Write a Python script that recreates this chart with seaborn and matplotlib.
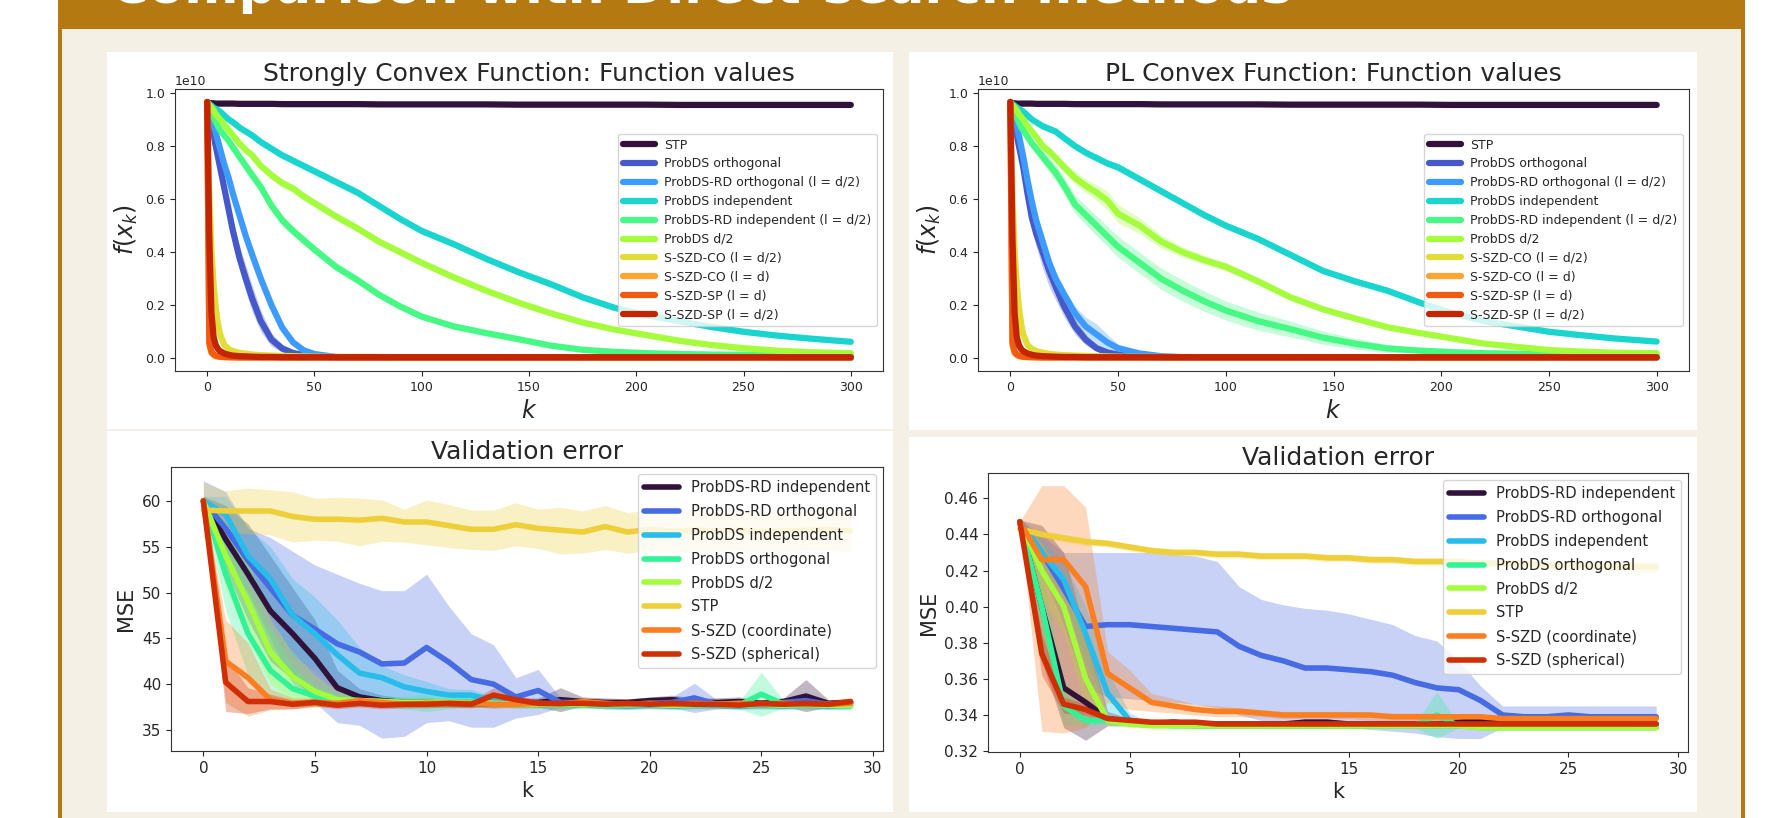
import numpy as np
import matplotlib
matplotlib.use("Agg")
import matplotlib.pyplot as plt
from matplotlib.patches import Rectangle
import seaborn as sns

# ---------------------------------------------
#  Poster block: comparison with direct-search methods
# ---------------------------------------------

HEADER = "Comparison with Direct-search methods"

# ---- top row: function values (units of 1e10) ----
K_TOP = [0, 1, 2, 3, 4, 5, 6, 8, 10, 12, 15, 18, 21, 25, 30, 35, 40, 45, 50, 60,
         70, 80, 90, 100, 115, 130, 145, 160, 175, 190, 205, 220, 235, 250, 265, 280, 300]

TOP_LABELS = ["STP", "ProbDS orthogonal", "ProbDS-RD orthogonal (l = d/2)",
              "ProbDS independent", "ProbDS-RD independent (l = d/2)", "ProbDS d/2",
              "S-SZD-CO (l = d/2)", "S-SZD-CO (l = d)", "S-SZD-SP (l = d)", "S-SZD-SP (l = d/2)"]

# Strongly convex function
SC_STP = [0.966, 0.962, 0.961, 0.961, 0.960, 0.960, 0.960, 0.960, 0.960, 0.960, 0.959, 0.959, 0.959,
          0.959, 0.959, 0.958, 0.958, 0.958, 0.958, 0.958, 0.958, 0.957, 0.957, 0.957, 0.957, 0.957,
          0.956, 0.956, 0.956, 0.956, 0.956, 0.955, 0.955, 0.955, 0.955, 0.955, 0.955]
SC_ORTH = [0.966, 0.93, 0.89, 0.84, 0.80, 0.76, 0.72, 0.64, 0.56, 0.48, 0.38, 0.30, 0.225, 0.14, 0.07,
           0.037, 0.02, 0.012, 0.007, 0.003, 0.002, 0.002, 0.002, 0.002, 0.002, 0.002, 0.002, 0.002,
           0.002, 0.002, 0.002, 0.002, 0.002, 0.002, 0.002, 0.002, 0.002]
SC_RDORTH = [0.966, 0.95, 0.92, 0.88, 0.85, 0.82, 0.79, 0.73, 0.68, 0.62, 0.54, 0.46, 0.39, 0.30, 0.20,
             0.115, 0.06, 0.03, 0.016, 0.005, 0.003, 0.002, 0.002, 0.002, 0.002, 0.002, 0.002, 0.002,
             0.002, 0.002, 0.002, 0.002, 0.002, 0.002, 0.002, 0.002, 0.002]
SC_IND = [0.966, 0.958, 0.952, 0.945, 0.940, 0.935, 0.930, 0.915, 0.900, 0.890, 0.870, 0.855, 0.840,
          0.815, 0.790, 0.765, 0.745, 0.725, 0.705, 0.665, 0.625, 0.575, 0.525, 0.480, 0.430, 0.375,
          0.325, 0.280, 0.230, 0.190, 0.162, 0.140, 0.118, 0.100, 0.086, 0.075, 0.062]
SC_RDIND = [0.966, 0.95, 0.93, 0.91, 0.89, 0.875, 0.86, 0.84, 0.82, 0.795, 0.76, 0.725, 0.69, 0.645,
            0.575, 0.52, 0.48, 0.445, 0.41, 0.345, 0.295, 0.24, 0.195, 0.157, 0.12, 0.095, 0.072,
            0.048, 0.032, 0.024, 0.019, 0.016, 0.014, 0.013, 0.012, 0.011, 0.010]
SC_D2 = [0.966, 0.955, 0.945, 0.935, 0.92, 0.91, 0.90, 0.88, 0.86, 0.84, 0.81, 0.785, 0.765, 0.725,
         0.69, 0.66, 0.64, 0.61, 0.585, 0.535, 0.49, 0.44, 0.40, 0.36, 0.305, 0.255, 0.21, 0.17,
         0.135, 0.108, 0.087, 0.066, 0.050, 0.038, 0.029, 0.023, 0.019]
SC_CO2 = [0.966, 0.60, 0.40, 0.28, 0.19, 0.13, 0.09, 0.05, 0.035, 0.027, 0.021, 0.017, 0.014, 0.012,
          0.010, 0.009, 0.008, 0.007, 0.006, 0.005, 0.005, 0.005, 0.004, 0.004, 0.004, 0.004, 0.004,
          0.004, 0.004, 0.004, 0.004, 0.004, 0.004, 0.004, 0.004, 0.004, 0.004]
SC_CO = [0.966, 0.05, 0.02, 0.012, 0.008, 0.006, 0.005, 0.004, 0.004, 0.003, 0.003, 0.003, 0.003,
         0.003, 0.003, 0.003, 0.003, 0.003, 0.003, 0.003, 0.003, 0.003, 0.003, 0.003, 0.003, 0.003,
         0.003, 0.003, 0.003, 0.003, 0.003, 0.003, 0.003, 0.003, 0.003, 0.003, 0.003]
SC_SP = [0.966, 0.06, 0.025, 0.015, 0.010, 0.008, 0.006, 0.005, 0.004, 0.004, 0.003, 0.003, 0.003,
         0.003, 0.003, 0.003, 0.003, 0.003, 0.003, 0.003, 0.003, 0.003, 0.003, 0.003, 0.003, 0.003,
         0.003, 0.003, 0.003, 0.003, 0.003, 0.003, 0.003, 0.003, 0.003, 0.003, 0.003]
SC_SP2 = [0.966, 0.45, 0.17, 0.08, 0.05, 0.035, 0.027, 0.018, 0.013, 0.010, 0.008, 0.007, 0.006,
          0.005, 0.005, 0.004, 0.004, 0.004, 0.004, 0.004, 0.004, 0.004, 0.004, 0.004, 0.004, 0.004,
          0.004, 0.004, 0.004, 0.004, 0.004, 0.004, 0.004, 0.004, 0.004, 0.004, 0.004]

# spread (half band width)
SC_STP_SD = [0.0, 0.003, 0.003, 0.003, 0.003, 0.003, 0.003, 0.003, 0.003, 0.003, 0.003, 0.003, 0.003,
             0.003, 0.003, 0.003, 0.003, 0.003, 0.003, 0.003, 0.003, 0.003, 0.003, 0.003, 0.003,
             0.003, 0.003, 0.003, 0.003, 0.003, 0.003, 0.003, 0.003, 0.003, 0.003, 0.003, 0.003]
SC_ORTH_SD = [0.0, 0.01, 0.015, 0.02, 0.025, 0.025, 0.03, 0.03, 0.035, 0.04, 0.045, 0.05, 0.05, 0.04,
              0.025, 0.015, 0.008, 0.005, 0.003, 0.001, 0.0, 0.0, 0.0, 0.0, 0.0, 0.0, 0.0, 0.0, 0.0,
              0.0, 0.0, 0.0, 0.0, 0.0, 0.0, 0.0, 0.0]
SC_RDORTH_SD = [0.0, 0.005, 0.01, 0.012, 0.015, 0.015, 0.015, 0.015, 0.018, 0.02, 0.02, 0.02, 0.02,
                0.018, 0.015, 0.012, 0.008, 0.005, 0.003, 0.001, 0.0, 0.0, 0.0, 0.0, 0.0, 0.0, 0.0,
                0.0, 0.0, 0.0, 0.0, 0.0, 0.0, 0.0, 0.0, 0.0, 0.0]
SC_IND_SD = [0.0, 0.004, 0.006, 0.008, 0.008, 0.01, 0.01, 0.01, 0.012, 0.012, 0.012, 0.012, 0.013,
             0.013, 0.013, 0.013, 0.013, 0.013, 0.014, 0.014, 0.014, 0.013, 0.013, 0.013, 0.012,
             0.012, 0.012, 0.012, 0.012, 0.011, 0.011, 0.011, 0.010, 0.010, 0.009, 0.009, 0.008]
SC_RDIND_SD = [0.0, 0.006, 0.008, 0.01, 0.012, 0.012, 0.013, 0.014, 0.015, 0.016, 0.018, 0.02, 0.02,
               0.02, 0.02, 0.02, 0.018, 0.018, 0.016, 0.015, 0.014, 0.012, 0.01, 0.009, 0.008,
               0.007, 0.006, 0.005, 0.004, 0.003, 0.003, 0.002, 0.002, 0.002, 0.002, 0.002, 0.002]
SC_D2_SD = [0.0, 0.005, 0.008, 0.01, 0.01, 0.012, 0.012, 0.012, 0.013, 0.013, 0.014, 0.014, 0.015,
            0.015, 0.016, 0.016, 0.016, 0.016, 0.015, 0.015, 0.014, 0.014, 0.013, 0.013, 0.012,
            0.012, 0.011, 0.010, 0.009, 0.008, 0.007, 0.006, 0.005, 0.004, 0.003, 0.003, 0.003]

# PL convex function
PL_STP = [0.966, 0.962, 0.961, 0.960, 0.960, 0.960, 0.960, 0.960, 0.960, 0.959, 0.959, 0.959, 0.959,
          0.959, 0.958, 0.958, 0.958, 0.958, 0.958, 0.958, 0.957, 0.957, 0.957, 0.957, 0.957, 0.956,
          0.956, 0.956, 0.956, 0.956, 0.955, 0.955, 0.955, 0.955, 0.955, 0.955, 0.955]
PL_ORTH = [0.966, 0.93, 0.89, 0.84, 0.80, 0.76, 0.72, 0.62, 0.53, 0.47, 0.40, 0.33, 0.27, 0.195,
           0.12, 0.07, 0.038, 0.022, 0.014, 0.006, 0.003, 0.002, 0.002, 0.002, 0.002, 0.002, 0.002,
           0.002, 0.002, 0.002, 0.002, 0.002, 0.002, 0.002, 0.002, 0.002, 0.002]
PL_RDORTH = [0.966, 0.95, 0.92, 0.88, 0.84, 0.80, 0.76, 0.67, 0.59, 0.52, 0.44, 0.36, 0.30, 0.24,
             0.17, 0.12, 0.09, 0.06, 0.038, 0.018, 0.008, 0.004, 0.003, 0.003, 0.003, 0.003, 0.003,
             0.003, 0.003, 0.003, 0.003, 0.003, 0.003, 0.003, 0.003, 0.003, 0.003]
PL_IND = [0.966, 0.958, 0.952, 0.946, 0.940, 0.935, 0.930, 0.915, 0.900, 0.890, 0.875, 0.865, 0.855,
          0.830, 0.800, 0.775, 0.755, 0.735, 0.720, 0.675, 0.630, 0.585, 0.540, 0.500, 0.450, 0.390,
          0.330, 0.290, 0.255, 0.210, 0.170, 0.140, 0.120, 0.100, 0.087, 0.075, 0.063]
PL_RDIND = [0.966, 0.95, 0.93, 0.91, 0.89, 0.87, 0.86, 0.835, 0.81, 0.79, 0.76, 0.73, 0.70, 0.65,
            0.58, 0.54, 0.50, 0.46, 0.42, 0.36, 0.30, 0.255, 0.215, 0.18, 0.14, 0.11, 0.078, 0.055,
            0.037, 0.029, 0.023, 0.019, 0.017, 0.015, 0.014, 0.013, 0.0125]
PL_D2 = [0.966, 0.955, 0.945, 0.935, 0.92, 0.91, 0.90, 0.875, 0.855, 0.835, 0.80, 0.78, 0.755, 0.72,
         0.68, 0.65, 0.625, 0.595, 0.545, 0.50, 0.44, 0.40, 0.37, 0.345, 0.29, 0.23, 0.185, 0.15,
         0.117, 0.095, 0.075, 0.055, 0.043, 0.031, 0.025, 0.021, 0.019]
PL_CO2 = SC_CO2
PL_CO = SC_CO
PL_SP = SC_SP
PL_SP2 = SC_SP2

PL_STP_SD = SC_STP_SD
PL_ORTH_SD = [0.0, 0.01, 0.015, 0.02, 0.025, 0.03, 0.03, 0.035, 0.04, 0.05, 0.06, 0.06, 0.05, 0.04,
              0.03, 0.02, 0.012, 0.006, 0.004, 0.002, 0.0, 0.0, 0.0, 0.0, 0.0, 0.0, 0.0, 0.0, 0.0,
              0.0, 0.0, 0.0, 0.0, 0.0, 0.0, 0.0, 0.0]
PL_RDORTH_SD = [0.0, 0.005, 0.01, 0.012, 0.015, 0.015, 0.018, 0.02, 0.025, 0.03, 0.035, 0.035, 0.03,
                0.025, 0.025, 0.035, 0.04, 0.03, 0.015, 0.006, 0.003, 0.0, 0.0, 0.0, 0.0, 0.0, 0.0,
                0.0, 0.0, 0.0, 0.0, 0.0, 0.0, 0.0, 0.0, 0.0, 0.0]
PL_IND_SD = SC_IND_SD
PL_RDIND_SD = [0.0, 0.006, 0.008, 0.01, 0.012, 0.014, 0.016, 0.018, 0.02, 0.022, 0.025, 0.028, 0.03,
               0.032, 0.034, 0.036, 0.038, 0.038, 0.04, 0.04, 0.04, 0.04, 0.038, 0.036, 0.034, 0.03,
               0.025, 0.02, 0.015, 0.01, 0.008, 0.006, 0.005, 0.004, 0.003, 0.003, 0.002]
PL_D2_SD = [0.0, 0.005, 0.008, 0.01, 0.01, 0.012, 0.012, 0.013, 0.014, 0.015, 0.016, 0.018, 0.02,
            0.022, 0.024, 0.026, 0.03, 0.035, 0.035, 0.03, 0.025, 0.02, 0.018, 0.016, 0.014, 0.012,
            0.01, 0.009, 0.008, 0.007, 0.006, 0.005, 0.004, 0.004, 0.003, 0.003, 0.003]

# ---- bottom row: validation error ----
K_BOT = list(range(30))
BOT_LABELS = ["ProbDS-RD independent", "ProbDS-RD orthogonal", "ProbDS independent",
              "ProbDS orthogonal", "ProbDS d/2", "STP", "S-SZD (coordinate)", "S-SZD (spherical)"]

V1_RDIND = [60.0, 55.8, 52.0, 48.0, 45.5, 42.8, 39.6, 38.6, 38.2, 38.0, 38.0, 37.9, 37.9, 37.8, 37.9,
            38.0, 38.3, 38.1, 38.0, 38.0, 38.2, 38.3, 38.0, 38.0, 38.1, 37.9, 38.1, 38.7, 37.9, 38.0]
V1_RDIND_HI = [60.5, 59.5, 57.5, 54.0, 50.5, 47.0, 41.5, 39.5, 38.8, 38.5, 38.5, 38.4, 38.4, 38.3, 38.4,
               38.5, 39.6, 38.6, 38.5, 38.4, 38.6, 38.8, 38.5, 38.5, 38.6, 38.3, 38.5, 40.5, 38.3, 38.4]
V1_RDIND_LO = [59.5, 52.5, 47.0, 42.5, 40.5, 38.5, 37.8, 37.8, 37.7, 37.6, 37.6, 37.5, 37.5, 37.4, 37.5,
               37.5, 37.0, 37.6, 37.5, 37.6, 37.8, 37.8, 37.5, 37.5, 37.6, 37.5, 37.6, 37.0, 37.5, 37.6]
V1_RDORTH = [60.0, 57.0, 53.5, 50.5, 47.5, 46.0, 44.4, 43.5, 42.2, 42.3, 44.0, 42.4, 40.5, 40.0, 38.6,
             39.3, 38.0, 38.0, 37.8, 37.8, 37.9, 38.0, 38.5, 37.8, 37.9, 37.8, 38.0, 38.2, 37.8, 38.0]
V1_RDORTH_HI = [62.2, 61.0, 57.0, 56.0, 54.5, 53.0, 52.0, 51.0, 50.2, 50.2, 52.0, 48.5, 45.5, 44.3, 40.7,
                41.6, 38.5, 38.4, 38.3, 38.2, 38.4, 38.6, 40.1, 38.3, 38.3, 38.2, 38.5, 38.6, 38.2, 38.4]
V1_RDORTH_LO = [59.0, 53.0, 50.0, 45.0, 40.0, 38.0, 35.8, 35.5, 34.1, 34.3, 35.8, 36.0, 35.3, 35.3, 36.3,
                36.7, 37.5, 37.5, 37.3, 37.3, 37.4, 37.4, 36.9, 37.3, 37.4, 37.3, 37.4, 37.6, 37.3, 37.5]
V1_IND = [60.0, 58.5, 54.0, 51.5, 47.5, 45.5, 43.2, 41.2, 40.7, 39.7, 39.2, 38.8, 38.8, 38.2, 37.8,
          37.8, 37.7, 37.8, 37.7, 37.6, 37.7, 37.6, 37.7, 37.7, 37.6, 37.7, 37.6, 37.7, 37.6, 37.7]
V1_IND_HI = [60.5, 60.5, 57.0, 55.0, 51.5, 49.5, 47.0, 44.0, 42.0, 41.0, 40.3, 39.5, 39.4, 38.7, 38.2,
             38.2, 38.1, 38.2, 38.1, 38.0, 38.1, 38.0, 38.1, 38.1, 38.0, 38.1, 38.0, 38.1, 38.0, 38.1]
V1_IND_LO = [59.5, 56.5, 51.0, 47.5, 43.0, 41.5, 39.5, 38.7, 38.5, 38.3, 38.1, 37.9, 37.9, 37.7, 37.4,
             37.4, 37.3, 37.4, 37.3, 37.2, 37.3, 37.2, 37.3, 37.3, 37.2, 37.3, 37.2, 37.3, 37.2, 37.3]
V1_ORTH = [60.0, 52.0, 45.5, 41.5, 39.5, 38.7, 38.3, 38.2, 38.1, 38.0, 38.0, 38.0, 38.1, 37.9, 37.8,
           37.8, 37.7, 37.8, 37.7, 37.7, 37.8, 37.7, 37.7, 37.8, 37.7, 38.9, 37.8, 37.7, 37.7, 37.6]
V1_ORTH_HI = [60.5, 56.0, 50.5, 46.0, 42.0, 39.8, 38.9, 38.7, 38.6, 38.6, 38.9, 38.6, 38.6, 38.3, 38.2,
              38.2, 38.1, 38.2, 38.1, 38.1, 38.2, 38.1, 38.1, 38.2, 38.1, 41.3, 38.2, 38.1, 38.1, 38.0]
V1_ORTH_LO = [59.5, 48.0, 41.0, 38.5, 37.5, 37.6, 37.6, 37.6, 37.5, 37.3, 37.0, 37.3, 37.5, 37.5, 37.4,
              37.4, 37.3, 37.4, 37.3, 37.3, 37.4, 37.3, 37.3, 37.4, 37.3, 36.5, 37.4, 37.3, 37.3, 37.2]
V1_D2 = [60.0, 54.0, 49.0, 43.5, 40.8, 39.2, 38.3, 38.2, 38.1, 38.0, 38.0, 38.0, 37.9, 37.9, 37.8,
         37.8, 37.8, 37.8, 37.8, 37.8, 37.8, 37.7, 37.8, 37.8, 37.7, 37.8, 37.7, 37.8, 37.7, 37.7]
V1_D2_HI = [60.5, 57.5, 53.5, 47.0, 43.5, 41.0, 39.2, 38.8, 38.6, 38.5, 38.5, 38.5, 38.3, 38.3, 38.2,
            38.2, 38.2, 38.2, 38.2, 38.2, 38.2, 38.1, 38.2, 38.2, 38.1, 38.2, 38.1, 38.2, 38.1, 38.1]
V1_D2_LO = [59.5, 50.5, 45.0, 40.0, 38.2, 37.6, 37.5, 37.6, 37.6, 37.5, 37.5, 37.5, 37.5, 37.5, 37.4,
            37.4, 37.4, 37.4, 37.4, 37.4, 37.4, 37.3, 37.4, 37.4, 37.3, 37.4, 37.3, 37.4, 37.3, 37.3]
V1_STP = [59.0, 58.9, 58.9, 58.9, 58.3, 58.0, 58.0, 57.9, 58.1, 57.7, 57.7, 57.3, 56.9, 56.9, 57.4,
          57.0, 56.8, 56.6, 57.2, 56.6, 56.9, 56.7, 56.8, 56.7, 56.8, 56.6, 56.7, 56.8, 56.9, 56.7]
V1_STP_HI = [62.0, 61.1, 61.4, 61.2, 61.0, 60.3, 60.4, 60.3, 60.1, 59.1, 60.1, 59.6, 59.0, 59.0, 59.8,
             59.1, 59.3, 58.9, 59.5, 58.7, 59.1, 58.9, 59.0, 58.8, 59.0, 58.7, 58.9, 58.9, 59.1, 58.8]
V1_STP_LO = [56.0, 56.6, 56.4, 56.3, 55.5, 55.7, 55.6, 55.1, 55.6, 55.5, 55.2, 54.9, 54.7, 54.6, 55.1,
             54.8, 54.2, 54.3, 54.7, 54.3, 54.6, 54.4, 54.5, 54.5, 54.6, 54.4, 54.4, 54.6, 54.6, 54.5]
V1_CO = [60.0, 42.5, 40.7, 38.3, 37.9, 38.0, 37.9, 38.2, 38.0, 37.8, 37.9, 37.9, 37.9, 37.8, 37.8,
         37.9, 37.8, 38.1, 37.9, 37.8, 37.9, 37.8, 37.9, 37.8, 37.9, 37.8, 37.9, 37.8, 37.8, 37.9]
V1_CO_HI = [60.5, 47.0, 44.5, 39.5, 38.5, 38.5, 38.3, 38.6, 38.4, 38.2, 38.3, 38.3, 38.3, 38.2, 38.2,
            38.3, 38.2, 38.5, 38.3, 38.2, 38.3, 38.2, 38.3, 38.2, 38.3, 38.2, 38.3, 38.2, 38.2, 38.3]
V1_CO_LO = [59.5, 38.0, 36.5, 37.2, 37.3, 37.5, 37.5, 37.8, 37.6, 37.4, 37.5, 37.5, 37.5, 37.4, 37.4,
            37.5, 37.4, 37.7, 37.5, 37.4, 37.5, 37.4, 37.5, 37.4, 37.5, 37.4, 37.5, 37.4, 37.4, 37.5]
V1_SP = [60.0, 40.2, 38.1, 38.1, 37.8, 38.0, 37.7, 37.9, 37.7, 37.8, 37.8, 37.9, 37.8, 38.8, 38.3,
         37.9, 37.9, 37.9, 37.8, 37.9, 37.8, 37.9, 37.8, 37.8, 37.7, 37.9, 37.8, 37.9, 37.8, 38.1]
V1_SP_HI = [60.5, 43.0, 39.6, 38.9, 38.3, 38.4, 38.1, 38.3, 38.1, 38.2, 38.2, 38.3, 38.2, 39.6, 38.8,
            38.3, 38.3, 38.3, 38.2, 38.3, 38.2, 38.3, 38.2, 38.2, 38.1, 38.3, 38.2, 38.3, 38.2, 38.5]
V1_SP_LO = [59.5, 37.0, 36.8, 37.3, 37.3, 37.6, 37.3, 37.5, 37.3, 37.4, 37.4, 37.5, 37.4, 38.0, 37.8,
            37.5, 37.5, 37.5, 37.4, 37.5, 37.4, 37.5, 37.4, 37.4, 37.3, 37.5, 37.4, 37.5, 37.4, 37.7]

V2_RDIND = [0.447, 0.400, 0.355, 0.347, 0.338, 0.336, 0.335, 0.336, 0.335, 0.335, 0.335, 0.335, 0.335,
            0.336, 0.336, 0.335, 0.335, 0.335, 0.335, 0.335, 0.336, 0.337, 0.337, 0.337, 0.336, 0.336,
            0.336, 0.336, 0.335, 0.335]
V2_RDIND_HI = [0.448, 0.445, 0.430, 0.385, 0.342, 0.338, 0.337, 0.338, 0.336, 0.336, 0.336, 0.336,
               0.336, 0.338, 0.338, 0.336, 0.336, 0.336, 0.336, 0.336, 0.337, 0.339, 0.339, 0.338,
               0.337, 0.337, 0.337, 0.337, 0.336, 0.336]
V2_RDIND_LO = [0.446, 0.370, 0.333, 0.326, 0.334, 0.334, 0.334, 0.334, 0.334, 0.334, 0.334, 0.334,
               0.334, 0.334, 0.334, 0.334, 0.334, 0.334, 0.334, 0.334, 0.334, 0.335, 0.335, 0.335,
               0.335, 0.335, 0.335, 0.335, 0.334, 0.334]
V2_RDORTH = [0.447, 0.430, 0.410, 0.389, 0.390, 0.390, 0.389, 0.388, 0.387, 0.386, 0.378, 0.373, 0.370,
             0.366, 0.366, 0.365, 0.364, 0.362, 0.358, 0.355, 0.354, 0.348, 0.340, 0.339, 0.339, 0.340,
             0.339, 0.339, 0.339, 0.339]
V2_RDORTH_HI = [0.448, 0.440, 0.430, 0.430, 0.430, 0.430, 0.430, 0.429, 0.428, 0.425, 0.411, 0.404,
                0.401, 0.399, 0.398, 0.396, 0.393, 0.390, 0.384, 0.381, 0.370, 0.356, 0.345, 0.345,
                0.345, 0.345, 0.345, 0.345, 0.345, 0.345]
V2_RDORTH_LO = [0.446, 0.420, 0.390, 0.355, 0.350, 0.349, 0.348, 0.347, 0.346, 0.344, 0.340, 0.337,
                0.336, 0.334, 0.334, 0.333, 0.332, 0.331, 0.330, 0.328, 0.327, 0.327, 0.333, 0.333,
                0.333, 0.333, 0.333, 0.333, 0.333, 0.333]
V2_IND = [0.447, 0.430, 0.415, 0.385, 0.352, 0.337, 0.335, 0.335, 0.334, 0.334, 0.334, 0.334, 0.334,
          0.334, 0.334, 0.334, 0.334, 0.334, 0.334, 0.334, 0.334, 0.334, 0.334, 0.334, 0.334, 0.334,
          0.334, 0.334, 0.334, 0.334]
V2_IND_HI = [0.448, 0.438, 0.425, 0.400, 0.365, 0.341, 0.336, 0.336, 0.335, 0.335, 0.335, 0.335, 0.335,
             0.335, 0.335, 0.335, 0.335, 0.335, 0.335, 0.335, 0.335, 0.335, 0.335, 0.335, 0.335, 0.335,
             0.335, 0.335, 0.335, 0.335]
V2_IND_LO = [0.446, 0.424, 0.405, 0.370, 0.340, 0.334, 0.333, 0.333, 0.333, 0.333, 0.333, 0.333, 0.333,
             0.333, 0.333, 0.333, 0.333, 0.333, 0.333, 0.333, 0.333, 0.333, 0.333, 0.333, 0.333, 0.333,
             0.333, 0.333, 0.333, 0.333]
V2_ORTH = [0.447, 0.400, 0.345, 0.337, 0.337, 0.336, 0.335, 0.334, 0.334, 0.334, 0.334, 0.334, 0.334,
           0.334, 0.334, 0.334, 0.334, 0.334, 0.334, 0.340, 0.334, 0.333, 0.333, 0.333, 0.333, 0.333,
           0.333, 0.333, 0.333, 0.333]
V2_ORTH_HI = [0.448, 0.420, 0.360, 0.340, 0.338, 0.337, 0.336, 0.335, 0.335, 0.335, 0.335, 0.335,
              0.335, 0.335, 0.335, 0.335, 0.335, 0.335, 0.335, 0.353, 0.335, 0.334, 0.334, 0.334,
              0.334, 0.334, 0.334, 0.334, 0.334, 0.334]
V2_ORTH_LO = [0.446, 0.380, 0.335, 0.334, 0.335, 0.334, 0.334, 0.333, 0.333, 0.333, 0.333, 0.333,
              0.333, 0.333, 0.333, 0.333, 0.333, 0.333, 0.333, 0.327, 0.333, 0.332, 0.332, 0.332,
              0.332, 0.332, 0.332, 0.332, 0.332, 0.332]
V2_D2 = [0.447, 0.420, 0.400, 0.360, 0.337, 0.335, 0.334, 0.334, 0.334, 0.334, 0.334, 0.334, 0.334,
         0.334, 0.334, 0.334, 0.334, 0.334, 0.334, 0.334, 0.334, 0.333, 0.333, 0.333, 0.333, 0.333,
         0.333, 0.333, 0.333, 0.333]
V2_D2_HI = [0.448, 0.435, 0.415, 0.380, 0.340, 0.336, 0.335, 0.335, 0.335, 0.335, 0.335, 0.335, 0.335,
            0.335, 0.335, 0.335, 0.335, 0.335, 0.335, 0.335, 0.335, 0.334, 0.334, 0.334, 0.334, 0.334,
            0.334, 0.334, 0.334, 0.334]
V2_D2_LO = [0.446, 0.405, 0.385, 0.345, 0.334, 0.333, 0.333, 0.333, 0.333, 0.333, 0.333, 0.333, 0.333,
            0.333, 0.333, 0.333, 0.333, 0.333, 0.333, 0.333, 0.333, 0.332, 0.332, 0.332, 0.332, 0.332,
            0.332, 0.332, 0.332, 0.332]
V2_STP = [0.443, 0.440, 0.438, 0.436, 0.435, 0.433, 0.431, 0.430, 0.430, 0.429, 0.429, 0.428, 0.428,
          0.428, 0.427, 0.427, 0.426, 0.426, 0.425, 0.425, 0.425, 0.424, 0.424, 0.424, 0.423, 0.423,
          0.423, 0.422, 0.422, 0.422]
V2_STP_HI = [0.445, 0.442, 0.440, 0.438, 0.437, 0.435, 0.433, 0.432, 0.432, 0.431, 0.431, 0.430, 0.430,
             0.430, 0.429, 0.429, 0.428, 0.428, 0.427, 0.427, 0.427, 0.426, 0.426, 0.426, 0.425, 0.425,
             0.425, 0.425, 0.425, 0.425]
V2_STP_LO = [0.441, 0.438, 0.436, 0.434, 0.433, 0.431, 0.429, 0.428, 0.428, 0.427, 0.427, 0.426, 0.426,
             0.426, 0.425, 0.425, 0.424, 0.424, 0.423, 0.423, 0.423, 0.422, 0.422, 0.422, 0.421, 0.421,
             0.420, 0.420, 0.419, 0.419]
V2_CO = [0.447, 0.426, 0.426, 0.411, 0.363, 0.355, 0.347, 0.345, 0.343, 0.342, 0.342, 0.341, 0.340,
         0.340, 0.340, 0.340, 0.340, 0.339, 0.339, 0.339, 0.339, 0.339, 0.338, 0.338, 0.338, 0.338,
         0.338, 0.338, 0.338, 0.338]
V2_CO_HI = [0.447, 0.467, 0.467, 0.455, 0.375, 0.365, 0.352, 0.349, 0.346, 0.345, 0.344, 0.343, 0.342,
            0.342, 0.342, 0.342, 0.341, 0.341, 0.341, 0.341, 0.340, 0.340, 0.340, 0.340, 0.340, 0.340,
            0.340, 0.340, 0.340, 0.340]
V2_CO_LO = [0.447, 0.331, 0.330, 0.333, 0.347, 0.343, 0.342, 0.341, 0.340, 0.339, 0.339, 0.339, 0.338,
            0.338, 0.338, 0.338, 0.337, 0.337, 0.337, 0.337, 0.337, 0.337, 0.336, 0.336, 0.336, 0.336,
            0.336, 0.336, 0.336, 0.336]
V2_SP = [0.447, 0.374, 0.346, 0.343, 0.338, 0.337, 0.336, 0.336, 0.336, 0.335, 0.335, 0.335, 0.335,
         0.335, 0.335, 0.335, 0.335, 0.335, 0.335, 0.335, 0.335, 0.335, 0.335, 0.335, 0.335, 0.335,
         0.335, 0.335, 0.335, 0.335]
V2_SP_HI = [0.448, 0.385, 0.350, 0.346, 0.340, 0.338, 0.337, 0.337, 0.337, 0.336, 0.336, 0.336, 0.336,
            0.336, 0.336, 0.336, 0.336, 0.336, 0.336, 0.336, 0.336, 0.336, 0.336, 0.336, 0.336, 0.336,
            0.336, 0.336, 0.336, 0.336]
V2_SP_LO = [0.446, 0.362, 0.341, 0.340, 0.336, 0.335, 0.334, 0.334, 0.334, 0.334, 0.334, 0.334, 0.334,
            0.334, 0.334, 0.334, 0.334, 0.334, 0.334, 0.334, 0.334, 0.334, 0.334, 0.334, 0.334, 0.334,
            0.334, 0.334, 0.334, 0.334]

SCALE = 1e10

# ---------------------------------------------
#  Figure set-up
# ---------------------------------------------
sns.set_style("ticks", {"axes.edgecolor": "0.2", "xtick.color": "0.15", "ytick.color": "0.15"})
plt.rcParams["font.family"] = ["DejaVu Sans"]

W, H = 1778, 818
fig = plt.figure(figsize=(W / 100, H / 100), dpi=100, facecolor="white")


def frac(x0, y0, x1, y1):
    # pixel box (top-left origin) -> figure fraction [l, b, w, h]
    return [x0 / W, 1 - y1 / H, (x1 - x0) / W, (y1 - y0) / H]


def rect(x0, y0, x1, y1, color):
    l, b, w, h = frac(x0, y0, x1, y1)
    fig.add_artist(Rectangle((l, b), w, h, transform=fig.transFigure,
                             facecolor=color, edgecolor="none", zorder=-10))


GOLD = "#b47a11"
CREAM = "#f4f0e6"
rect(58, 0, 1745, 818, GOLD)
rect(62, 29, 1741, 818, CREAM)
rect(107, 52, 893, 429, "white")
rect(909, 52, 1697, 430, "white")
rect(107, 431, 893, 812, "white")
rect(909, 437, 1697, 812, "white")

fig.text(110 / W, 1 - 3 / H, HEADER, color="white", fontsize=37.5, fontweight="bold",
         ha="left", va="baseline")

cmap = matplotlib.colormaps["turbo"]
TOP_COLORS = [cmap(i / 10) for i in range(10)]
BOT_COLORS = [cmap(i / 8) for i in range(8)]


def draw_top(box, title, series, spreads):
    ax = fig.add_axes(frac(*box))
    k = np.array(K_TOP)
    for vals, sd, lab, col in zip(series, spreads, TOP_LABELS, TOP_COLORS):
        v = np.array(vals) * SCALE
        if sd is not None:
            s = np.array(sd) * SCALE
            ax.fill_between(k, v - s, v + s, color=col, alpha=0.3, lw=0)
        sns.lineplot(x=k, y=v, ax=ax, color=col, lw=4.5, label=lab, legend=False)
    ax.set_xlim(-15, 315)
    ax.set_ylim(-0.048 * SCALE, 1.015 * SCALE)
    ax.set_xticks(range(0, 301, 50))
    ax.set_yticks(np.arange(0, 1.01, 0.2) * SCALE)
    ax.tick_params(labelsize=9)
    ax.yaxis.get_offset_text().set_fontsize(9)
    ax.set_title(title, fontsize=18)
    ax.set_xlabel("$k$", fontsize=17)
    ax.set_ylabel("$f(x_k)$", fontsize=17)
    h, l = ax.get_legend_handles_labels()
    ax.legend(h, l, loc="center right", fontsize=9, handlelength=2.5, labelspacing=0.47,
              frameon=True)
    return ax


def draw_bot(box, series, his, los, ylim, yticks):
    ax = fig.add_axes(frac(*box))
    k = np.array(K_BOT)
    for vals, hi, lo, lab, col in zip(series, his, los, BOT_LABELS, BOT_COLORS):
        ax.fill_between(k, lo, hi, color=col, alpha=0.3, lw=0)
        sns.lineplot(x=k, y=vals, ax=ax, color=col, lw=4, label=lab, legend=False)
    ax.set_xlim(-1.45, 30.45)
    ax.set_ylim(*ylim)
    ax.set_xticks(range(0, 31, 5))
    ax.set_yticks(yticks)
    ax.tick_params(labelsize=11)
    ax.set_title("Validation error", fontsize=18)
    ax.set_xlabel("k", fontsize=15)
    ax.set_ylabel("MSE", fontsize=15)
    h, l = ax.get_legend_handles_labels()
    ax.legend(h, l, loc="upper right", fontsize=10.6, handlelength=2.4, labelspacing=0.6,
              frameon=True)
    return ax


draw_top((175, 89, 883, 371), "Strongly Convex Function: Function values",
         [SC_STP, SC_ORTH, SC_RDORTH, SC_IND, SC_RDIND, SC_D2, SC_CO2, SC_CO, SC_SP, SC_SP2],
         [SC_STP_SD, SC_ORTH_SD, SC_RDORTH_SD, SC_IND_SD, SC_RDIND_SD, SC_D2_SD,
          None, None, None, None])

draw_top((978, 89, 1689, 371), "PL Convex Function: Function values",
         [PL_STP, PL_ORTH, PL_RDORTH, PL_IND, PL_RDIND, PL_D2, PL_CO2, PL_CO, PL_SP, PL_SP2],
         [PL_STP_SD, PL_ORTH_SD, PL_RDORTH_SD, PL_IND_SD, PL_RDIND_SD, PL_D2_SD,
          None, None, None, None])

draw_bot((171, 467, 883, 751),
         [V1_RDIND, V1_RDORTH, V1_IND, V1_ORTH, V1_D2, V1_STP, V1_CO, V1_SP],
         [V1_RDIND_HI, V1_RDORTH_HI, V1_IND_HI, V1_ORTH_HI, V1_D2_HI, V1_STP_HI, V1_CO_HI, V1_SP_HI],
         [V1_RDIND_LO, V1_RDORTH_LO, V1_IND_LO, V1_ORTH_LO, V1_D2_LO, V1_STP_LO, V1_CO_LO, V1_SP_LO],
         (32.7, 63.7), [35, 40, 45, 50, 55, 60])

draw_bot((988, 473, 1688, 752),
         [V2_RDIND, V2_RDORTH, V2_IND, V2_ORTH, V2_D2, V2_STP, V2_CO, V2_SP],
         [V2_RDIND_HI, V2_RDORTH_HI, V2_IND_HI, V2_ORTH_HI, V2_D2_HI, V2_STP_HI, V2_CO_HI, V2_SP_HI],
         [V2_RDIND_LO, V2_RDORTH_LO, V2_IND_LO, V2_ORTH_LO, V2_D2_LO, V2_STP_LO, V2_CO_LO, V2_SP_LO],
         (0.3195, 0.474), [0.32, 0.34, 0.36, 0.38, 0.40, 0.42, 0.44, 0.46])

fig.savefig("out.png", dpi=100, facecolor=fig.get_facecolor())
